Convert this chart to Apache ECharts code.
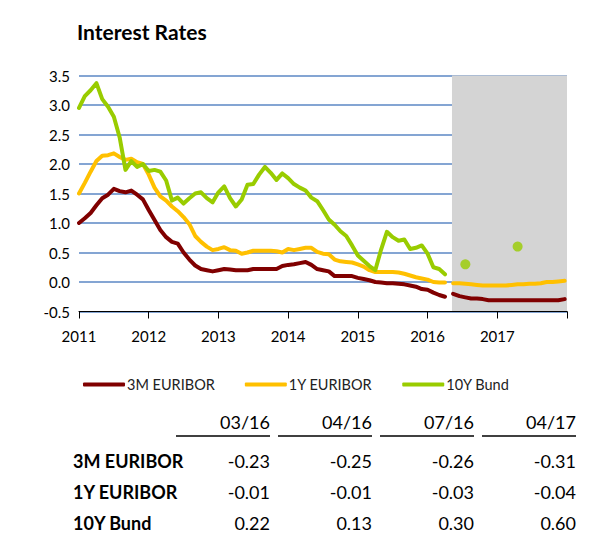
<!DOCTYPE html>
<html>
<head>
<meta charset="utf-8">
<title>Interest Rates</title>
<script src="https://cdn.jsdelivr.net/npm/echarts@6/dist/echarts.min.js"></script>
<style>
    html, body { margin: 0; padding: 0; background: #fff; }
    #main { width: 597px; height: 541px; }
</style>
</head>
<body>
<div id="main"></div>
<script type="text/javascript">
    // monthly history, month 0 = Jan 2011
    var eur3m = [1.0, 1.08, 1.17, 1.3, 1.42, 1.48, 1.58, 1.54, 1.52, 1.55, 1.48, 1.4,
        1.22, 1.05, 0.88, 0.76, 0.68, 0.65, 0.5, 0.38, 0.28, 0.22, 0.2, 0.18,
        0.2, 0.22, 0.21, 0.2, 0.2, 0.2, 0.22, 0.22, 0.22, 0.22, 0.22, 0.27,
        0.29, 0.3, 0.32, 0.34, 0.29, 0.22, 0.2, 0.18, 0.1, 0.1, 0.1, 0.1,
        0.07, 0.05, 0.03, 0.0, -0.01, -0.02, -0.02, -0.03, -0.04, -0.06, -0.08, -0.12,
        -0.13, -0.18, -0.22, -0.25];
    var eur1y = [1.5, 1.68, 1.87, 2.05, 2.14, 2.15, 2.18, 2.12, 2.07, 2.09, 2.03, 2.0,
        1.82, 1.6, 1.45, 1.38, 1.28, 1.2, 1.1, 0.98, 0.78, 0.68, 0.6, 0.54,
        0.56, 0.59, 0.54, 0.53, 0.48, 0.5, 0.53, 0.53, 0.53, 0.53, 0.52, 0.5,
        0.56, 0.54, 0.56, 0.58, 0.58, 0.51, 0.48, 0.47, 0.38, 0.35, 0.34, 0.33,
        0.3, 0.26, 0.2, 0.17, 0.17, 0.17, 0.17, 0.16, 0.14, 0.11, 0.08, 0.06,
        0.04, 0.0, -0.01, -0.01];
    var bund10y = [2.95, 3.15, 3.25, 3.37, 3.1, 2.97, 2.8, 2.45, 1.9, 2.05, 1.95, 2.0,
        1.88, 1.9, 1.87, 1.72, 1.38, 1.43, 1.33, 1.42, 1.5, 1.52, 1.42, 1.35,
        1.52, 1.62, 1.42, 1.28, 1.4, 1.65, 1.66, 1.82, 1.95, 1.85, 1.73, 1.84,
        1.76, 1.66, 1.6, 1.55, 1.43, 1.37, 1.22, 1.06, 0.97, 0.86, 0.78, 0.62,
        0.45, 0.36, 0.27, 0.2, 0.55, 0.85, 0.76, 0.7, 0.72, 0.56, 0.58, 0.62,
        0.48, 0.25, 0.22, 0.13];

    // forecast curves (month index from Jan 2011)
    var fcMonth = [64.4, 65.5, 66.5, 67.5, 68.5, 69.5, 70.5, 71.5, 72.5, 73.5,
        74.5, 75.5, 76.5, 77.5, 78.5, 79.5, 80.5, 81.5, 82.5, 83.6];
    var fc3m = [-0.2, -0.24, -0.26, -0.28, -0.28, -0.29, -0.31, -0.31, -0.31, -0.31,
        -0.31, -0.31, -0.31, -0.31, -0.31, -0.31, -0.31, -0.31, -0.31, -0.29];
    var fc1y = [-0.02, -0.02, -0.03, -0.04, -0.05, -0.06, -0.06, -0.06, -0.06, -0.06,
        -0.05, -0.04, -0.04, -0.03, -0.03, -0.02, 0.0, 0.0, 0.01, 0.02];
    var fcBundMonth = [66.5, 75.5];
    var fcBund = [0.30, 0.60];

    var shadeFrom = 2016.35;

    var tableCols = ['03/16', '04/16', '07/16', '04/17'];
    var tableRows = ['3M EURIBOR', '1Y EURIBOR', '10Y Bund'];
    var tableVals = [
        ['-0.23', '-0.25', '-0.26', '-0.31'],
        ['-0.01', '-0.01', '-0.03', '-0.04'],
        ['0.22', '0.13', '0.30', '0.60']
    ];

    var FONT = 'Lato, "Liberation Sans", sans-serif';
    var C3M = '#800000', C1Y = '#ffc000', C10 = '#99cc00';

    function toYear(m) { return 2011 + m / 12; }
    function hist(arr) { return arr.map(function (v, i) { return [toYear(i), v]; }); }
    function fc(months, arr) { return months.map(function (m, i) { return [toYear(m), arr[i]]; }); }

    // history + break + forecast in one line
    var d3m = hist(eur3m).concat([[toYear(63.7), '-']], fc(fcMonth, fc3m));
    var d1y = hist(eur1y).concat([[toYear(63.7), '-']], fc(fcMonth, fc1y));

    // table drawn as graphic elements
    var colRight = [270, 372, 474, 576];
    var rowY = [461, 492, 523];
    var graphics = [];
    tableCols.forEach(function (c, i) {
        graphics.push({
            type: 'text', x: colRight[i], y: 422,
            style: { text: c, font: '18px ' + FONT, fill: '#000', align: 'right', verticalAlign: 'middle' }
        });
        graphics.push({
            type: 'line',
            shape: { x1: colRight[i] - 94, y1: 436, x2: colRight[i], y2: 436 },
            style: { stroke: '#000', lineWidth: 1.5 }
        });
    });
    tableRows.forEach(function (r, j) {
        graphics.push({
            type: 'text', x: 73, y: rowY[j],
            style: { text: r, font: 'bold 18px ' + FONT, fill: '#000', align: 'left', verticalAlign: 'middle' }
        });
        tableVals[j].forEach(function (v, i) {
            graphics.push({
                type: 'text', x: colRight[i], y: rowY[j],
                style: { text: v, font: '18px ' + FONT, fill: '#000', align: 'right', verticalAlign: 'middle' }
            });
        });
    });

    var myChart = echarts.init(document.getElementById('main'), null, { renderer: 'svg' });

    var option = {
        animation: false,
        title: {
            text: 'Interest Rates',
            left: 72, top: 16,
            textStyle: { fontFamily: FONT, fontSize: 21, fontWeight: 'bold', color: '#000' }
        },
        legend: {
            data: ['3M EURIBOR', '1Y EURIBOR', '10Y Bund'],
            left: 78, top: 372,
            itemWidth: 42, itemHeight: 4, itemGap: 30,
            icon: 'roundRect',
            textStyle: { fontFamily: FONT, fontSize: 14.5, color: '#222', padding: [0, 0, 0, -3] }
        },
        grid: { left: 79, right: 30, top: 75.5, bottom: 229.5, containLabel: false },
        xAxis: {
            type: 'value', min: 2011, max: 2018, interval: 1, z: 1,
            axisLine: { onZero: false, lineStyle: { color: '#000', width: 1 } },
            axisTick: { show: true, length: 7, lineStyle: { color: '#000' } },
            splitLine: { show: false },
            axisLabel: {
                margin: 17, fontFamily: FONT, fontSize: 15, color: '#000',
                formatter: function (v) { return v >= 2018 ? '' : String(v); }
            }
        },
        yAxis: {
            type: 'value', min: -0.5, max: 3.5, interval: 0.5, z: 1,
            axisLine: { show: false },
            axisTick: { show: false },
            splitLine: { lineStyle: { color: '#5b87c4', width: 1.5 } },
            axisLabel: {
                margin: 9, fontFamily: FONT, fontSize: 15, color: '#000',
                formatter: function (v) { return v.toFixed(1); }
            }
        },
        graphic: graphics,
        series: [
            {
                name: 'shade', type: 'line', data: [], z: 0, silent: true,
                markArea: {
                    silent: true,
                    itemStyle: { color: '#d4d4d4' },
                    data: [[{ xAxis: shadeFrom }, { xAxis: 2018 }]]
                }
            },
            {
                name: '3M EURIBOR', type: 'line', z: 3, data: d3m,
                showSymbol: false, connectNulls: false,
                itemStyle: { color: C3M },
                lineStyle: { color: C3M, width: 4, cap: 'round', join: 'round' }
            },
            {
                name: '1Y EURIBOR', type: 'line', z: 3, data: d1y,
                showSymbol: false, connectNulls: false,
                itemStyle: { color: C1Y },
                lineStyle: { color: C1Y, width: 4, cap: 'round', join: 'round' }
            },
            {
                name: '10Y Bund', type: 'line', z: 3, data: hist(bund10y),
                showSymbol: false,
                itemStyle: { color: C10 },
                lineStyle: { color: C10, width: 4, cap: 'round', join: 'round' }
            },
            {
                name: '10Y Bund forecast', type: 'scatter', z: 3,
                data: fc(fcBundMonth, fcBund),
                symbolSize: 10,
                itemStyle: { color: C10 }
            }
        ]
    };

    myChart.setOption(option);
</script>
</body>
</html>
